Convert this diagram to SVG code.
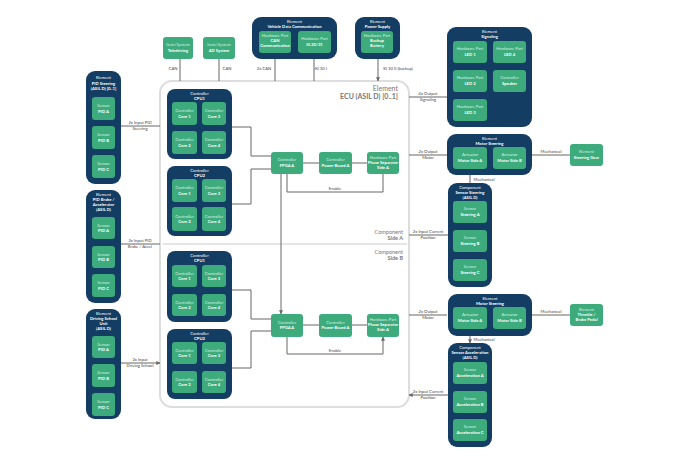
<svg xmlns="http://www.w3.org/2000/svg" width="690" height="460" viewBox="0 0 690 460">
<style>
.d{fill:#143d63}
.g{fill:#3dab7c}
.t{font-family:Lato,"Liberation Sans",sans-serif;font-size:4.2px;fill:#fff;text-anchor:middle}
.l{fill:#d8f0e4}
.b{font-weight:bold}
.k{font-family:Lato,"Liberation Sans",sans-serif;font-size:4.2px;fill:#444;text-anchor:middle}
.c{fill:none;stroke:#666;stroke-width:1}
.e{font-family:Lato,"Liberation Sans",sans-serif;fill:#777;text-anchor:end}
</style>
<defs>
<marker id="a" viewBox="0 0 6 6" refX="5.5" refY="3" markerWidth="4" markerHeight="4" orient="auto"><path d="M0,0L6,3L0,6z" fill="#666"/></marker>
</defs>
<rect width="690" height="460" fill="#fff"/>

<g id="ecu">
<rect x="160" y="81" width="249" height="326" rx="12" fill="#fff" stroke="#ddd" stroke-width="2"/>
<line x1="163" y1="244" x2="407" y2="244" stroke="#ddd" stroke-width="1.5"/>
<text class="e" x="398" y="91" font-size="7">Element</text>
<text class="e" x="398" y="99" font-size="7" font-weight="bold" fill="#555">ECU (ASIL D) [0..1]</text>
<text class="e" x="403" y="234" font-size="5.5">Component</text>
<text class="e" x="403" y="240" font-size="5.5" font-weight="bold" fill="#555">Side A</text>
<text class="e" x="403" y="254" font-size="5.5">Component</text>
<text class="e" x="403" y="260" font-size="5.5" font-weight="bold" fill="#555">Side B</text>
</g>

<g id="connectors">
<path class="c" marker-end="url(#a)" d="M180,59V81M219,59V81M275,59V81M314,59V81M378,59V81"/>
<path class="c" marker-end="url(#a)" d="M121,126H160M121,244H160M121,363H160"/>
<path class="c" marker-end="url(#a)" d="M409,97H447M409,155H447M409,315H447M532,155H570M532,315H570M470,175V183M470,336V343"/>
<path class="c" marker-end="url(#a)" d="M448,235H409M448,395H409"/>
<path class="c" marker-end="url(#a)" d="M232,127H251V156H271M232,204H251V169H271M303,163H319M352,163H367M287,174V192H383V174M281,174V314"/>
<path class="c" marker-end="url(#a)" d="M232,290H251V319H271M232,368H251V331H271M303,325H319M352,325H367M287,337V354H383V337"/>
<text class="k" x="173" y="70">CAN</text>
<text class="k" x="227" y="70">CAN</text>
<text class="k" x="264" y="70">2x CAN</text>
<text class="k" x="321" y="70">Kl 30 I</text>
<text class="k" x="398" y="70">Kl 30 II (backup)</text>
<text class="k" x="140" y="124">2x Input PID</text>
<text class="k" x="140" y="130">Steering</text>
<text class="k" x="140" y="242">2x Input PID</text>
<text class="k" x="140" y="248">Brake / Accel</text>
<text class="k" x="140" y="361">2x Input</text>
<text class="k" x="140" y="367">Driving School</text>
<text class="k" x="428" y="95">4x Output</text>
<text class="k" x="428" y="101">Signaling</text>
<text class="k" x="428" y="153">2x Output</text>
<text class="k" x="428" y="159">Motor</text>
<text class="k" x="428" y="313">2x Output</text>
<text class="k" x="428" y="319">Motor</text>
<text class="k" x="428" y="233">2x Input Current</text>
<text class="k" x="428" y="239">Position</text>
<text class="k" x="428" y="393">2x Input Current</text>
<text class="k" x="428" y="399">Position</text>
<text class="k" x="551" y="153">Mechanical</text>
<text class="k" x="551" y="313">Mechanical</text>
<text class="k" x="484" y="181">Mechanical</text>
<text class="k" x="484" y="341">Mechanical</text>
<text class="k" x="335" y="190">Enable</text>
<text class="k" x="335" y="352">Enable</text>
</g>

<g id="telediving"><rect class="g" x="163" y="37" width="30" height="22" rx="3"/><text class="t l" x="178" y="46">Item/System</text><text class="t b" x="178" y="51.5">Teledriving</text></g>
<g id="adsystem"><rect class="g" x="203" y="37" width="32" height="22" rx="3"/><text class="t l" x="219" y="46">Item/System</text><text class="t b" x="219" y="51.5">AD System</text></g>

<g id="vdc"><rect class="d" x="252" y="17" width="85" height="42" rx="9"/><text class="t" x="294.5" y="22.5">Element</text><text class="t b" x="294.5" y="27.5">Vehicle Data Communication</text>
<rect class="g" x="259" y="31" width="32" height="22" rx="3"/><text class="t l" x="275" y="37">Hardware Part</text><text class="t b" x="275" y="42">CAN</text><text class="t b" x="275" y="47">Communication</text>
<rect class="g" x="298" y="31" width="33" height="22" rx="3"/><text class="t l" x="314.5" y="40">Hardware Part</text><text class="t b" x="314.5" y="45.5">Kl.30/31</text></g>

<g id="power"><rect class="d" x="355" y="17" width="45" height="42" rx="9"/><text class="t" x="377.5" y="22.5">Element</text><text class="t b" x="377.5" y="27.5">Power Supply</text>
<rect class="g" x="361" y="31" width="32" height="22" rx="3"/><text class="t l" x="377" y="37">Hardware Part</text><text class="t b" x="377" y="42">Backup</text><text class="t b" x="377" y="47">Battery</text></g>

<g id="pidsteering"><rect class="d" x="86" y="71" width="35" height="113" rx="9"/><text class="t" x="103.5" y="79">Element</text><text class="t b" x="103.5" y="84.5">PID Steering</text><text class="t b" x="103.5" y="90">(ASIL D) [0..1]</text>
<rect class="g" x="92" y="97" width="23" height="23" rx="3"/><text class="t l" x="103.5" y="107">Sensor</text><text class="t b" x="103.5" y="112.5">PID A</text>
<rect class="g" x="92" y="126" width="23" height="23" rx="3"/><text class="t l" x="103.5" y="136">Sensor</text><text class="t b" x="103.5" y="141.5">PID B</text>
<rect class="g" x="92" y="155" width="23" height="23" rx="3"/><text class="t l" x="103.5" y="165">Sensor</text><text class="t b" x="103.5" y="170.5">PID C</text></g>

<g id="pidbrake"><rect class="d" x="86" y="190" width="35" height="113" rx="9"/><text class="t" x="103.5" y="196">Element</text><text class="t b" x="103.5" y="201">PID Brake /</text><text class="t b" x="103.5" y="206">Accelerator</text><text class="t b" x="103.5" y="211">(ASIL D)</text>
<rect class="g" x="92" y="217" width="23" height="22" rx="3"/><text class="t l" x="103.5" y="226.5">Sensor</text><text class="t b" x="103.5" y="232">PID A</text>
<rect class="g" x="92" y="246" width="23" height="22" rx="3"/><text class="t l" x="103.5" y="255.5">Sensor</text><text class="t b" x="103.5" y="261">PID B</text>
<rect class="g" x="92" y="274" width="23" height="23" rx="3"/><text class="t l" x="103.5" y="284">Sensor</text><text class="t b" x="103.5" y="289.5">PID C</text></g>

<g id="driving"><rect class="d" x="86" y="309" width="35" height="110" rx="9"/><text class="t" x="103.5" y="315">Element</text><text class="t b" x="103.5" y="320">Driving School</text><text class="t b" x="103.5" y="325">Unit</text><text class="t b" x="103.5" y="330">(ASIL D)</text>
<rect class="g" x="92" y="336" width="23" height="22" rx="3"/><text class="t l" x="103.5" y="345.5">Sensor</text><text class="t b" x="103.5" y="351">PID A</text>
<rect class="g" x="92" y="364" width="23" height="23" rx="3"/><text class="t l" x="103.5" y="374">Sensor</text><text class="t b" x="103.5" y="379.5">PID B</text>
<rect class="g" x="92" y="393" width="23" height="23" rx="3"/><text class="t l" x="103.5" y="403">Sensor</text><text class="t b" x="103.5" y="408.5">PID C</text></g>

<g id="cpu1a"><rect class="d" x="167" y="89" width="65" height="70" rx="8"/><text class="t" x="199.5" y="94.5">Controller</text><text class="t b" x="199.5" y="99.5">CPU1</text>
<rect class="g" x="172" y="102" width="25" height="23" rx="3"/><text class="t l" x="184.5" y="112">Controller</text><text class="t b" x="184.5" y="117.5">Core 1</text>
<rect class="g" x="202" y="102" width="24" height="23" rx="3"/><text class="t l" x="214" y="112">Controller</text><text class="t b" x="214" y="117.5">Core 3</text>
<rect class="g" x="172" y="131" width="25" height="23" rx="3"/><text class="t l" x="184.5" y="141">Controller</text><text class="t b" x="184.5" y="146.5">Core 2</text>
<rect class="g" x="202" y="131" width="24" height="23" rx="3"/><text class="t l" x="214" y="141">Controller</text><text class="t b" x="214" y="146.5">Core 4</text></g>

<g id="cpu2a"><rect class="d" x="167" y="166" width="65" height="70" rx="8"/><text class="t" x="199.5" y="171.5">Controller</text><text class="t b" x="199.5" y="176.5">CPU2</text>
<rect class="g" x="172" y="179" width="25" height="23" rx="3"/><text class="t l" x="184.5" y="189">Controller</text><text class="t b" x="184.5" y="194.5">Core 1</text>
<rect class="g" x="202" y="179" width="24" height="23" rx="3"/><text class="t l" x="214" y="189">Controller</text><text class="t b" x="214" y="194.5">Core 3</text>
<rect class="g" x="172" y="207" width="25" height="24" rx="3"/><text class="t l" x="184.5" y="217.5">Controller</text><text class="t b" x="184.5" y="223">Core 2</text>
<rect class="g" x="202" y="207" width="24" height="24" rx="3"/><text class="t l" x="214" y="217.5">Controller</text><text class="t b" x="214" y="223">Core 4</text></g>

<g id="cpu1b"><rect class="d" x="167" y="251" width="65" height="71" rx="8"/><text class="t" x="199.5" y="256.5">Controller</text><text class="t b" x="199.5" y="261.5">CPU1</text>
<rect class="g" x="172" y="265" width="25" height="22" rx="3"/><text class="t l" x="184.5" y="274.5">Controller</text><text class="t b" x="184.5" y="280">Core 1</text>
<rect class="g" x="202" y="265" width="24" height="22" rx="3"/><text class="t l" x="214" y="274.5">Controller</text><text class="t b" x="214" y="280">Core 3</text>
<rect class="g" x="172" y="294" width="25" height="22" rx="3"/><text class="t l" x="184.5" y="303.5">Controller</text><text class="t b" x="184.5" y="309">Core 2</text>
<rect class="g" x="202" y="294" width="24" height="22" rx="3"/><text class="t l" x="214" y="303.5">Controller</text><text class="t b" x="214" y="309">Core 4</text></g>

<g id="cpu2b"><rect class="d" x="167" y="329" width="65" height="70" rx="8"/><text class="t" x="199.5" y="334.5">Controller</text><text class="t b" x="199.5" y="339.5">CPU2</text>
<rect class="g" x="172" y="342" width="25" height="22" rx="3"/><text class="t l" x="184.5" y="351.5">Controller</text><text class="t b" x="184.5" y="357">Core 1</text>
<rect class="g" x="202" y="342" width="24" height="22" rx="3"/><text class="t l" x="214" y="351.5">Controller</text><text class="t b" x="214" y="357">Core 3</text>
<rect class="g" x="172" y="371" width="25" height="22" rx="3"/><text class="t l" x="184.5" y="380.5">Controller</text><text class="t b" x="184.5" y="386">Core 2</text>
<rect class="g" x="202" y="371" width="24" height="22" rx="3"/><text class="t l" x="214" y="380.5">Controller</text><text class="t b" x="214" y="386">Core 4</text></g>

<g id="fpgaa"><rect class="g" x="271" y="152" width="32" height="22" rx="3"/><text class="t l" x="287" y="161">Controller</text><text class="t b" x="287" y="166.5">FPGA A</text></g>
<g id="pba"><rect class="g" x="319" y="152" width="33" height="22" rx="3"/><text class="t l" x="335.5" y="161">Controller</text><text class="t b" x="335.5" y="166.5">Power Board A</text></g>
<g id="psa"><rect class="g" x="367" y="152" width="32" height="22" rx="3"/><text class="t l" x="383" y="158.5">Hardware Part</text><text class="t b" x="383" y="163.5">Phase Separator</text><text class="t b" x="383" y="168.5">Side A</text></g>

<g id="fpgab"><rect class="g" x="271" y="314" width="32" height="23" rx="3"/><text class="t l" x="287" y="323.5">Controller</text><text class="t b" x="287" y="329">FPGA A</text></g>
<g id="pbb"><rect class="g" x="319" y="314" width="33" height="23" rx="3"/><text class="t l" x="335.5" y="323.5">Controller</text><text class="t b" x="335.5" y="329">Power Board A</text></g>
<g id="psb"><rect class="g" x="367" y="314" width="32" height="23" rx="3"/><text class="t l" x="383" y="321">Hardware Part</text><text class="t b" x="383" y="326">Phase Separator</text><text class="t b" x="383" y="331">Side A</text></g>

<g id="signaling"><rect class="d" x="447" y="27" width="85" height="100" rx="9"/><text class="t" x="489.5" y="32.5">Element</text><text class="t b" x="489.5" y="37.5">Signaling</text>
<rect class="g" x="453" y="41" width="34" height="22" rx="3"/><text class="t l" x="470" y="50">Hardware Part</text><text class="t b" x="470" y="55.5">LED 1</text>
<rect class="g" x="493" y="41" width="33" height="22" rx="3"/><text class="t l" x="509.5" y="50">Hardware Part</text><text class="t b" x="509.5" y="55.5">LED 4</text>
<rect class="g" x="453" y="70" width="34" height="22" rx="3"/><text class="t l" x="470" y="79">Hardware Part</text><text class="t b" x="470" y="84.5">LED 2</text>
<rect class="g" x="493" y="70" width="33" height="22" rx="3"/><text class="t l" x="509.5" y="79">Controller</text><text class="t b" x="509.5" y="84.5">Speaker</text>
<rect class="g" x="453" y="99" width="34" height="22" rx="3"/><text class="t l" x="470" y="108">Hardware Part</text><text class="t b" x="470" y="113.5">LED 3</text></g>

<g id="motora"><rect class="d" x="447" y="134" width="85" height="41" rx="9"/><text class="t" x="489.5" y="139.5">Element</text><text class="t b" x="489.5" y="144.5">Motor Steering</text>
<rect class="g" x="453" y="147" width="34" height="22" rx="3"/><text class="t l" x="470" y="156">Actuator</text><text class="t b" x="470" y="161.5">Motor Side A</text>
<rect class="g" x="493" y="147" width="33" height="22" rx="3"/><text class="t l" x="509.5" y="156">Actuator</text><text class="t b" x="509.5" y="161.5">Motor Side B</text></g>

<g id="steeringgear"><rect class="g" x="570" y="144" width="33" height="22" rx="3"/><text class="t l" x="586.5" y="153">Element</text><text class="t b" x="586.5" y="158.5">Steering Gear</text></g>

<g id="sensorsteering"><rect class="d" x="448" y="183" width="44" height="104" rx="9"/><text class="t" x="470" y="188.5">Component</text><text class="t b" x="470" y="193.5">Sensor Steering</text><text class="t b" x="470" y="198.5">(ASIL D)</text>
<rect class="g" x="453" y="201" width="34" height="22" rx="3"/><text class="t l" x="470" y="210">Sensor</text><text class="t b" x="470" y="215.5">Steering A</text>
<rect class="g" x="453" y="230" width="34" height="22" rx="3"/><text class="t l" x="470" y="239">Sensor</text><text class="t b" x="470" y="244.5">Steering B</text>
<rect class="g" x="453" y="259" width="34" height="22" rx="3"/><text class="t l" x="470" y="268">Sensor</text><text class="t b" x="470" y="273.5">Steering C</text></g>

<g id="motorb"><rect class="d" x="448" y="294" width="84" height="42" rx="9"/><text class="t" x="490" y="299.5">Element</text><text class="t b" x="490" y="304.5">Motor Steering</text>
<rect class="g" x="453" y="307" width="34" height="22" rx="3"/><text class="t l" x="470" y="316">Actuator</text><text class="t b" x="470" y="321.5">Motor Side A</text>
<rect class="g" x="493" y="307" width="33" height="22" rx="3"/><text class="t l" x="509.5" y="316">Actuator</text><text class="t b" x="509.5" y="321.5">Motor Side B</text></g>

<g id="throttle"><rect class="g" x="570" y="304" width="33" height="22" rx="3"/><text class="t l" x="586.5" y="311">Element</text><text class="t b" x="586.5" y="316">Throttle /</text><text class="t b" x="586.5" y="321">Brake Pedal</text></g>

<g id="sensoraccel"><rect class="d" x="448" y="343" width="44" height="104" rx="9"/><text class="t" x="470" y="348.5">Component</text><text class="t b" x="470" y="353.5">Sensor Acceleration</text><text class="t b" x="470" y="358.5">(ASIL D)</text>
<rect class="g" x="453" y="362" width="34" height="22" rx="3"/><text class="t l" x="470" y="371">Sensor</text><text class="t b" x="470" y="376.5">Acceleration A</text>
<rect class="g" x="453" y="391" width="34" height="22" rx="3"/><text class="t l" x="470" y="400">Sensor</text><text class="t b" x="470" y="405.5">Acceleration B</text>
<rect class="g" x="453" y="419" width="34" height="22" rx="3"/><text class="t l" x="470" y="428">Sensor</text><text class="t b" x="470" y="433.5">Acceleration C</text></g>
</svg>
